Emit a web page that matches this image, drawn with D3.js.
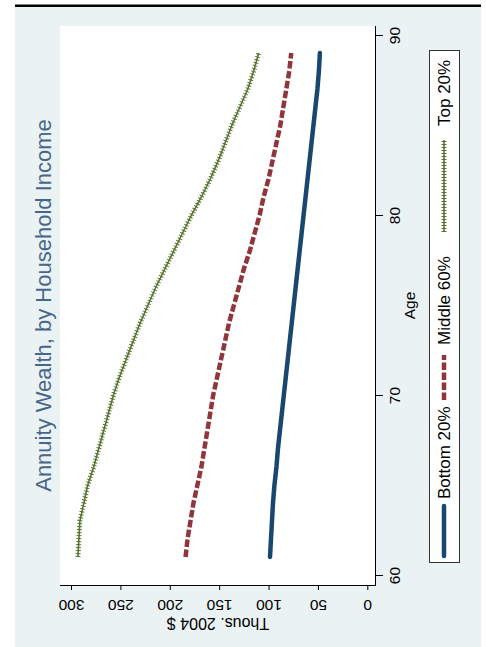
<!DOCTYPE html>
<html><head><meta charset="utf-8">
<script src="https://cdn.jsdelivr.net/npm/d3@7"></script>
<style>body{margin:0;background:#fff}svg text{font-family:"Liberation Sans Narrow","Liberation Sans",Arial,sans-serif}</style>
</head><body>
<svg id="c" width="486" height="647"></svg>
<script>
const ages      = [61,62,63,64,65,66,67,68,69,70,71,72,73,74,75,76,77,78,79,80,81,82,83,84,85,86,87,88,89];
const bottom20  = [98.5,97.5,96.5,95.5,94,92,90.5,88.5,86.5,84.5,82.5,80.5,78.5,76.5,74.5,72.5,70.5,68.5,66.5,64.5,62.5,60.5,58.5,56.5,54.5,52.5,50.5,49,48];
const middle60  = [184,182,179,176,172,168,165,162,159,156,152,148,144,140,135,130,125,119,114,109,105,100,96,92,88,85,82,79,77];
const top20     = [293,292,291,287,283,277,272,267,262,257,251,244,237,230,222,214,205,196,187,178,168,159,151,144,137,129,121,115,110];
const valueTicks = [0,50,100,150,200,250,300];
const ageTicks   = [60,70,80,90];
const seriesNames  = ["Bottom 20%","Middle 60%","Top 20%"];
const seriesColors = ["#1a476f","#90353b","#55752f"];
const titleText = "Annuity Wealth, by Household Income";
const valueTitle = "Thous. 2004 $";
const ageTitle = "Age";

const svg = d3.select("#c");
svg.append("rect").attr("x",15).attr("y",7).attr("width",466).attr("height",640).attr("fill","#eaf2f3");
svg.append("rect").attr("x",15).attr("y",4.5).attr("width",466).attr("height",2.5).attr("fill","#000");
const P = {left:60, right:376, top:26, bottom:585};
svg.append("rect").attr("x",P.left).attr("y",P.top).attr("width",P.right-P.left).attr("height",P.bottom-P.top).attr("fill","#fff");

const x = d3.scaleLinear().domain([0,300]).range([367.3,71]);
const y = d3.scaleLinear().domain([60,90]).range([575,35]);

const gx = svg.append("g").attr("transform",`translate(0,${P.bottom})`)
  .call(d3.axisBottom(x).tickValues(valueTicks).tickSize(5).tickSizeOuter(0));
gx.select(".domain").remove();
gx.selectAll(".tick line").attr("stroke","#000");
gx.selectAll(".tick text").attr("y",0).attr("dy","0.35em").attr("text-anchor","middle")
  .attr("transform","translate(0,20) rotate(180)").attr("font-size",15.5).attr("fill","#000");
svg.append("line").attr("x1",P.left).attr("x2",P.right).attr("y1",P.bottom+0.5).attr("y2",P.bottom+0.5).attr("stroke","#000");

const gy = svg.append("g").attr("transform",`translate(${P.right},0)`)
  .call(d3.axisRight(y).tickValues(ageTicks).tickSize(7).tickSizeOuter(0));
gy.select(".domain").remove();
gy.selectAll(".tick line").attr("stroke","#000");
gy.selectAll(".tick text").attr("x",0).attr("dy","0.35em").attr("text-anchor","middle")
  .attr("transform","translate(19,0) rotate(-90)").attr("font-size",15.5).attr("fill","#000");
svg.append("line").attr("x1",P.right-0.5).attr("x2",P.right-0.5).attr("y1",P.top).attr("y2",P.bottom+1).attr("stroke","#000");

svg.append("text").attr("transform",`translate(${(P.left+P.right)/2},624) rotate(180)`)
  .attr("text-anchor","middle").attr("dy","0.35em").attr("font-size",16).text(valueTitle);
svg.append("text").attr("transform",`translate(410,${(P.top+P.bottom)/2}) rotate(-90)`)
  .attr("text-anchor","middle").attr("dy","0.35em").attr("font-size",15.5).text(ageTitle);
svg.append("text").attr("transform",`translate(43,${(P.top+P.bottom)/2}) rotate(-90)`)
  .attr("text-anchor","middle").attr("dy","0.35em").attr("font-size",22).attr("fill","#47678a")
  .style("font-family","'Liberation Sans',Arial,sans-serif").text(titleText);

const seriesData = [bottom20, middle60, top20];
const line = d3.line().x(d=>x(d[1])).y(d=>y(d[0]));
function drawStyled(g, pts, i){
  const c = seriesColors[i];
  if(i===0){
    g.append("path").attr("d",pts).attr("fill","none").attr("stroke",c).attr("stroke-width",4.5).attr("stroke-linecap","round");
  } else if(i===1){
    g.append("path").attr("d",pts).attr("fill","none").attr("stroke",c).attr("stroke-width",4.5).attr("stroke-dasharray","7.5,2.5");
  } else {
    g.append("path").attr("d",pts).attr("fill","none").attr("stroke",c).attr("stroke-width",1.6);
    g.append("path").attr("d",pts).attr("fill","none").attr("stroke",c).attr("stroke-width",5).attr("stroke-dasharray","1,2");
  }
}
seriesData.forEach((vals,i)=>{
  const pts = line(ages.map((a,j)=>[a,vals[j]]));
  drawStyled(svg.append("g"), pts, i);
});

svg.append("rect").attr("x",429.5).attr("y",50.5).attr("width",30).attr("height",512)
  .attr("fill","#fff").attr("stroke","#333").attr("stroke-width",1);
const legendKeys = [[556,506,499],[400,355,345],[232,140,126]];
legendKeys.forEach((k,i)=>{
  const pts = d3.line()([[444,k[0]],[444,k[1]]]);
  drawStyled(svg.append("g"), pts, i);
  svg.append("text").attr("transform",`translate(444,${k[2]}) rotate(-90)`).attr("dy","0.35em")
    .attr("font-size",17).attr("text-anchor","start").text(seriesNames[i]);
});
</script>
</body></html>
